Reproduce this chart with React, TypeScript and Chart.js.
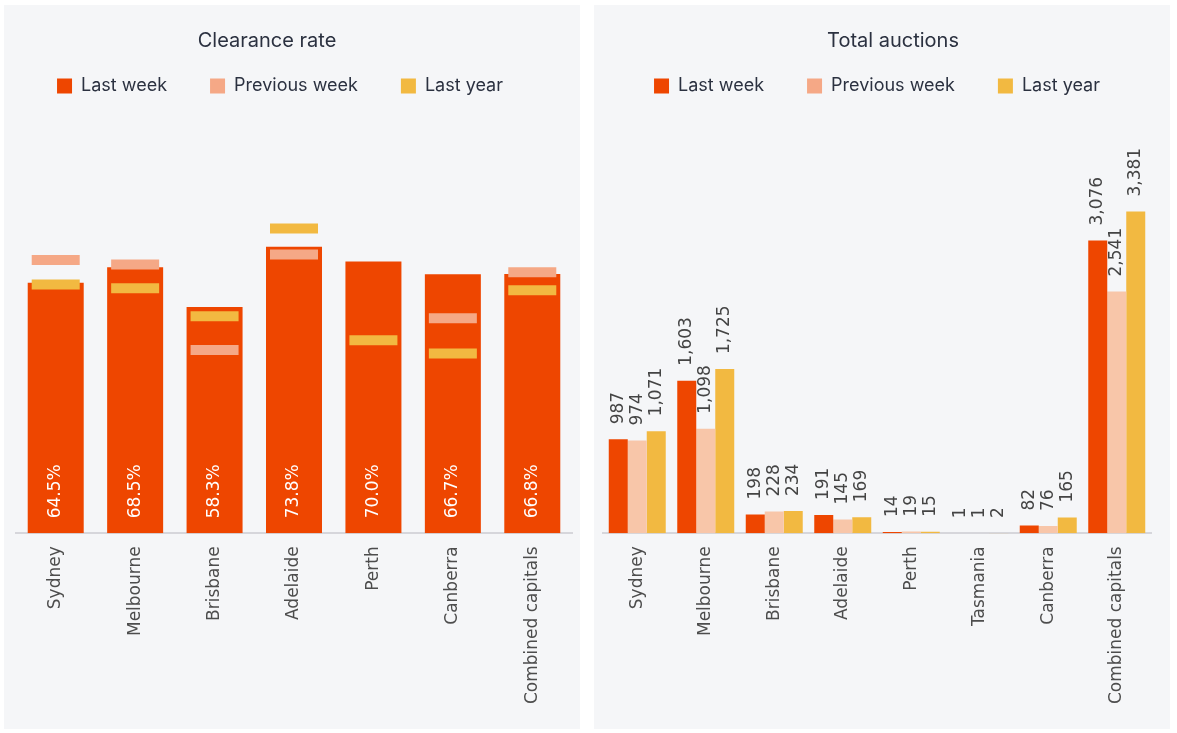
import React, { useEffect, useRef } from 'react';
import { Chart, registerables } from 'chart.js';

Chart.register(...registerables);
Chart.defaults.font.family = "'DejaVu Sans', sans-serif";

// ---------- data ----------
const clearanceCities = ['Sydney', 'Melbourne', 'Brisbane', 'Adelaide', 'Perth', 'Canberra', 'Combined capitals'];
const clearanceLastWeek = [64.5, 68.5, 58.3, 73.8, 70.0, 66.7, 66.8];
const clearancePrevWeek = [70.4, 69.2, 47.2, 71.8, null, 55.4, 67.2];
const clearanceLastYear = [64.1, 63.1, 55.9, 78.5, 49.7, 46.3, 62.6];

const auctionCities = ['Sydney', 'Melbourne', 'Brisbane', 'Adelaide', 'Perth', 'Tasmania', 'Canberra', 'Combined capitals'];
const auctionsLastWeek = [987, 1603, 198, 191, 14, 1, 82, 3076];
const auctionsPrevWeek = [974, 1098, 228, 145, 19, 1, 76, 2541];
const auctionsLastYear = [1071, 1725, 234, 169, 15, 2, 165, 3381];

const seriesLabels = ['Last week', 'Previous week', 'Last year'];

// ---------- styles ----------
const C_LAST = '#EE4600';
const C_PREV = '#F5A886';
const C_PREV_BAR = '#F8C6A9';
const C_YEAR = '#F2B941';
const TEXT = '#2B3140';
const AXIS_TEXT = '#4D4D4D';
const LABEL_FONT = "'DejaVu Sans'";
const legendColors = [C_LAST, C_PREV, C_YEAR];

const layoutTweaks = {
  id: 'layoutTweaks',
  beforeLayout(chart: any, _a: any, opts: any) {
    const legend = chart.legend;
    if (legend && !legend.__gapPatched) {
      const orig = legend.fit;
      legend.fit = function () {
        orig.call(this);
        this.height += opts.legendGap || 0;
      };
      legend.__gapPatched = true;
    }
  },
  afterLayout(chart: any, _a: any, opts: any) {
    if (chart.titleBlock) {
      chart.titleBlock.left += opts.titleShift || 0;
      chart.titleBlock.right += opts.titleShift || 0;
    }
    if (chart.legend) {
      chart.legend.left += opts.legendShift || 0;
      chart.legend.right += opts.legendShift || 0;
    }
  },
};

const valueLabels = {
  id: 'valueLabels',
  afterDatasetsDraw(chart: any, _a: any, opts: any) {
    if (!opts || !opts.mode) return;
    const ctx = chart.ctx;
    ctx.save();
    ctx.font = `${opts.size}px ${LABEL_FONT}`;
    ctx.fillStyle = opts.color;
    ctx.textAlign = 'left';
    ctx.textBaseline = 'middle';
    chart.data.datasets.forEach((ds: any, di: number) => {
      const meta = chart.getDatasetMeta(di);
      if (meta.type !== 'bar') return;
      meta.data.forEach((el: any, i: number) => {
        const v = ds.data[i];
        if (v == null) return;
        const text = opts.mode === 'inside' ? v.toFixed(1) + '%' : v.toLocaleString('en-US');
        const y = opts.mode === 'inside' ? el.base - opts.offset : el.y - opts.offset;
        ctx.save();
        ctx.translate(el.x, y);
        ctx.rotate(-Math.PI / 2);
        ctx.fillText(text, 0, 0);
        ctx.restore();
      });
    });
    ctx.restore();
  },
};

function commonOptions(title: string, yMax: number, padding: any, titleShift: number, legendShift: number, labelMode: any) {
  return {
    responsive: false,
    animation: false,
    events: [],
    layout: { padding, autoPadding: false },
    plugins: {
      title: {
        display: true,
        text: title,
        color: TEXT,
        font: { family: 'Inter', size: 20, weight: 'normal' },
        padding: { top: 24, bottom: -19 },
      },
      legend: {
        display: true,
        labels: {
          boxWidth: 15,
          boxHeight: 15,
          padding: 43,
          color: TEXT,
          font: { family: 'Inter', size: 18 },
          generateLabels: () =>
            seriesLabels.map((t, i) => ({
              text: t,
              fillStyle: legendColors[i],
              strokeStyle: legendColors[i],
              lineWidth: 0,
              hidden: false,
              datasetIndex: i,
              fontColor: TEXT,
            })),
        },
      },
      tooltip: { enabled: false },
      layoutTweaks: { legendGap: 40, titleShift, legendShift },
      valueLabels: labelMode,
    },
    scales: {
      x: {
        grid: { display: false, drawTicks: false },
        border: { display: true, color: '#D6D6DB', width: 2 },
        ticks: {
          autoSkip: false,
          minRotation: 90,
          maxRotation: 90,
          padding: 13,
          color: AXIS_TEXT,
          font: { family: LABEL_FONT, size: 17 },
        },
      },
      y: { display: false, min: 0, max: yMax },
    },
  };
}

function clearanceConfig(): any {
  return {
    type: 'bar',
    data: {
      labels: clearanceCities,
      datasets: [
        {
          type: 'bar',
          label: seriesLabels[0],
          data: clearanceLastWeek,
          backgroundColor: C_LAST,
          categoryPercentage: 0.705,
          barPercentage: 1,
          order: 2,
        },
        {
          type: 'line',
          label: seriesLabels[1],
          data: clearancePrevWeek,
          showLine: false,
          pointStyle: 'line',
          pointRadius: 24,
          pointHoverRadius: 24,
          pointBorderWidth: 10,
          pointBorderColor: C_PREV,
          pointBackgroundColor: C_PREV,
          borderColor: C_PREV,
          order: 1,
        },
        {
          type: 'line',
          label: seriesLabels[2],
          data: clearanceLastYear,
          showLine: false,
          pointStyle: 'line',
          pointRadius: 24,
          pointHoverRadius: 24,
          pointBorderWidth: 10,
          pointBorderColor: C_YEAR,
          pointBackgroundColor: C_YEAR,
          borderColor: C_YEAR,
          order: 0,
        },
      ],
    },
    options: commonOptions('Clearance rate', 100, { left: 12, right: 8, top: 0, bottom: 12 }, -27, -14, {
      mode: 'inside',
      size: 17,
      color: '#FFFFFF',
      offset: 15,
    }),
    plugins: [layoutTweaks, valueLabels],
  };
}

function auctionsConfig(): any {
  return {
    type: 'bar',
    data: {
      labels: auctionCities,
      datasets: [
        { label: seriesLabels[0], data: auctionsLastWeek, backgroundColor: C_LAST },
        { label: seriesLabels[1], data: auctionsPrevWeek, backgroundColor: C_PREV_BAR },
        { label: seriesLabels[2], data: auctionsLastYear, backgroundColor: C_YEAR },
      ].map((d) => ({ ...d, categoryPercentage: 0.832, barPercentage: 1 })),
    },
    options: commonOptions('Total auctions', 4080, { left: 9, right: 19, top: 0, bottom: 12 }, 16, 0, {
      mode: 'above',
      size: 17,
      color: '#444444',
      offset: 15,
    }),
    plugins: [layoutTweaks, valueLabels],
  };
}

function ChartPanel({ build, left }: { build: () => any; left: number }) {
  const ref = useRef<HTMLCanvasElement | null>(null);
  useEffect(() => {
    let chart: Chart | null = null;
    let cancelled = false;
    const fonts = (document as any).fonts;
    const ready = fonts
      ? Promise.all([
          fonts.load("17px 'DejaVu Sans'"),
          fonts.load('18px Inter'),
          fonts.load('20px Inter'),
        ]).catch(() => null)
      : Promise.resolve(null);
    ready.then(() => {
      if (cancelled || !ref.current) return;
      chart = new Chart(ref.current, build());
    });
    return () => {
      cancelled = true;
      if (chart) chart.destroy();
    };
  }, []);
  return (
    <div
      style={{
        position: 'absolute',
        left,
        top: 5,
        width: 576,
        height: 724,
        background: '#F5F6F8',
      }}
    >
      <canvas ref={ref} width={576} height={724} style={{ display: 'block' }} />
    </div>
  );
}

export default function App() {
  return (
    <div style={{ position: 'absolute', left: 0, top: 0, width: 1177, height: 733, background: '#FFFFFF' }}>
      <ChartPanel build={clearanceConfig} left={4} />
      <ChartPanel build={auctionsConfig} left={594} />
    </div>
  );
}
